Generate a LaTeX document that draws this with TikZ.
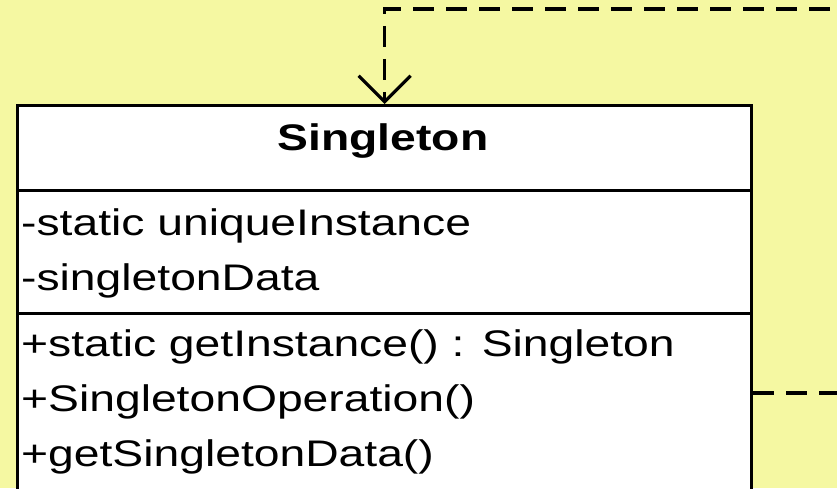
\documentclass[tikz,border=0pt]{standalone}
\usepackage{fontspec}
\newfontfamily\umlfont{Liberation Sans}[FakeStretch=1.25]
\usetikzlibrary{arrows.meta}
\definecolor{canvas}{RGB}{245,248,162}

\begin{document}
\begin{tikzpicture}[x=1pt, y=-1pt,
	compartment/.style={draw=black, fill=white, line width=3.3pt,
		minimum width=734pt, inner sep=0pt, anchor=north west},
	member/.style={anchor=base west, inner sep=0pt,
		font=\umlfont\fontsize{37}{46}\selectfont},
	selfref/.style={line width=3.2pt, dash pattern=on 21pt off 12pt,
		-{Straight Barb[length=26pt, width=52pt]}}]
	\useasboundingbox (0,0) rectangle (837,488);
	\clip (0,0) rectangle (837,488);
	\fill[canvas] (0,0) rectangle (837,488);

	% class box, three compartments
	\node[compartment, minimum height=85pt] (head) at (16,104) {};
	\node[compartment, minimum height=123pt] (attrs) at (16,189) {};
	\node[compartment, minimum height=230pt] (ops) at (16,312) {};

	\node[member, anchor=base, font=\umlfont\bfseries\fontsize{37}{46}\selectfont]
		(title) at (383,150) {Singleton};

	% attributes
	\node[member] (a1) at (21,235) {-static uniqueInstance};
	\node[member] (a2) at (21,290) {-singletonData};

	% operations
	\node[member] (o1) at (21,356) {+static getInstance() : Singleton};
	\node[member] (o2) at (21,411) {+SingletonOperation()};
	\node[member] (o3) at (21,466) {+getSingletonData()};

	% self association, runs round outside the frame
	\draw[selfref] (ops.east |- 0,393) -| (880,9) -| (head.north);
\end{tikzpicture}
\end{document}
